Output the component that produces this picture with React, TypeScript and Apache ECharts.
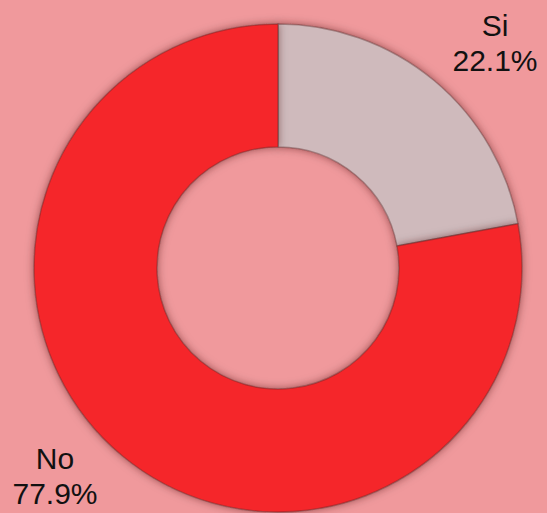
import React, { useEffect, useRef } from "react";
import * as echarts from "echarts";

const categories = ["Si", "No"];
const values = [22.1, 77.9];
const colors = ["#CFBABC", "#F5282B"];

export default function App() {
  const ref = useRef<HTMLDivElement>(null);
  useEffect(() => {
    if (!ref.current) return;
    const chart = echarts.init(ref.current, null, { renderer: "svg" });
    const labelPos = [
      { x: 495, y: 43 },
      { x: 55, y: 476 },
    ];
    chart.setOption({
      animation: false,
      backgroundColor: "#F0999C",
      series: [
        {
          type: "pie",
          center: [278, 268],
          radius: [121, 244],
          startAngle: 90,
          clockwise: true,
          data: categories.map((c, i) => ({
            name: c,
            value: values[i],
            itemStyle: { color: colors[i] },
          })),
          itemStyle: {
            borderColor: "rgba(90,40,40,0.4)",
            borderWidth: 1.5,
            shadowBlur: 8,
            shadowColor: "rgba(60,20,20,0.5)",
          },
          label: {
            show: true,
            position: "outside",
            formatter: (p: any) => `${p.name}\n${p.value.toFixed(1)}%`,
            fontFamily: "Liberation Sans, Arial, sans-serif",
            fontSize: 30,
            lineHeight: 35,
            color: "#111",
            align: "center",
            overflow: "none",
            width: 120,
          },
          labelLine: { show: false },
          labelLayout: (params: any) => ({
            x: labelPos[params.dataIndex].x,
            y: labelPos[params.dataIndex].y,
            align: "center",
            verticalAlign: "middle",
          }),
          emphasis: { disabled: true },
        },
      ],
    });
    return () => chart.dispose();
  }, []);
  return (
    <div
      ref={ref}
      style={{ position: "fixed", left: 0, top: 0, width: 547, height: 513 }}
    />
  );
}
